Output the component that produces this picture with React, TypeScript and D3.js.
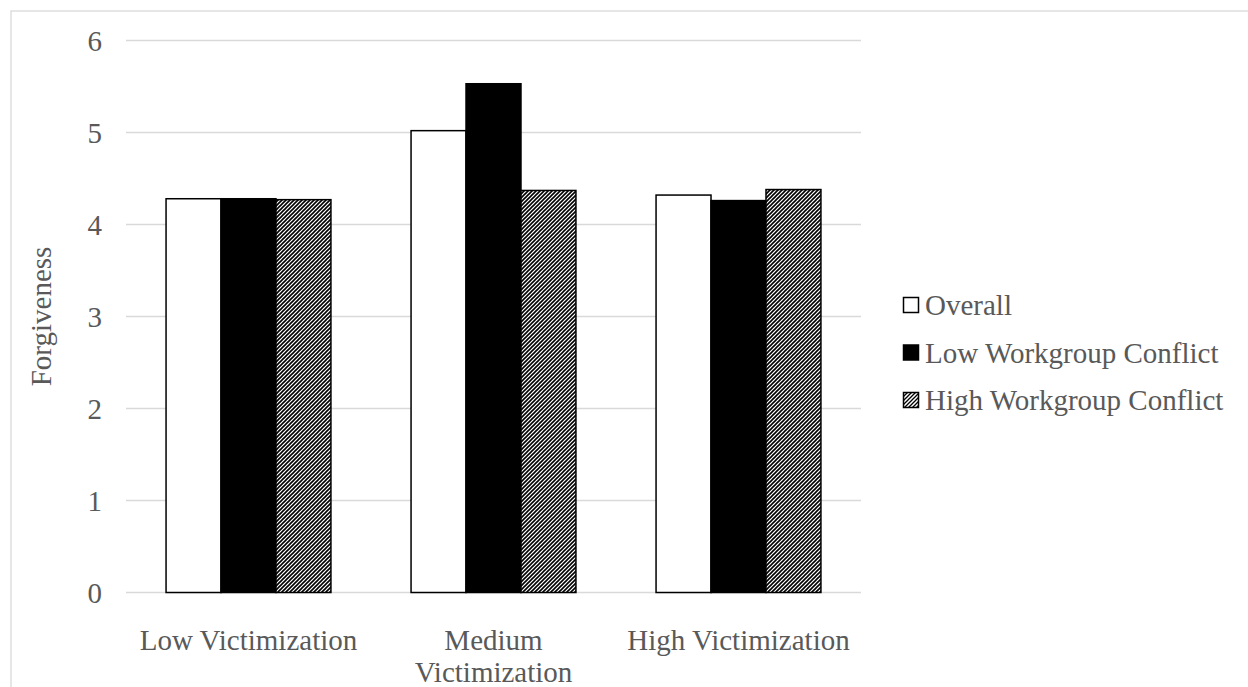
import React from "react";
import * as d3 from "d3";

const categories = ["Low Victimization", "Medium Victimization", "High Victimization"];
const categoryLines = [["Low Victimization"], ["Medium", "Victimization"], ["High Victimization"]];
const seriesNames = ["Overall", "Low Workgroup Conflict", "High Workgroup Conflict"];
const overall = [4.28, 5.02, 4.32];
const lowConflict = [4.28, 5.53, 4.26];
const highConflict = [4.27, 4.37, 4.38];
const yTicks = [0, 1, 2, 3, 4, 5, 6];

const W = 1248;
const H = 687;
const plotLeft = 126;
const plotRight = 861;
const plotTop = 40.5;
const plotBottom = 592.5;
const FONT = "'Liberation Serif', 'Times New Roman', serif";
const TEXT = "#595959";

export default function App() {
  const series = [overall, lowConflict, highConflict];
  const x0 = d3.scaleBand<string>().domain(categories).range([plotLeft, plotRight]).padding(0);
  const bw = x0.bandwidth();
  const groupW = bw * 0.673;
  const x1 = d3
    .scaleBand<number>()
    .domain([0, 1, 2])
    .range([(bw - groupW) / 2, (bw + groupW) / 2])
    .padding(0);
  const y = d3.scaleLinear().domain([0, 6]).range([plotBottom, plotTop]);

  const fills = ["#ffffff", "#000000", "url(#hatch)"];

  return (
    <svg
      width={W}
      height={H}
      style={{ position: "absolute", left: 0, top: 0, background: "#fff" }}
      fontFamily={FONT}
    >
      <defs>
        <pattern id="hatch" patternUnits="userSpaceOnUse" width="4" height="4">
          <rect width="4" height="4" fill="#fff" />
          <path d="M-1,1 L1,-1 M0,4 L4,0 M3,5 L5,3" stroke="#000" strokeWidth="1.6" />
        </pattern>
        <pattern id="hatchSmall" patternUnits="userSpaceOnUse" width="4" height="4">
          <rect width="4" height="4" fill="#fff" />
          <path d="M-1,1 L1,-1 M0,4 L4,0 M3,5 L5,3" stroke="#000" strokeWidth="1.3" />
        </pattern>
      </defs>
      <rect x={0} y={0} width={W} height={H} fill="#fff" />
      <rect x={11} y={11} width={W + 100} height={H + 100} fill="none" stroke="#d9d9d9" strokeWidth={1.3} />

      {yTicks.map((t) => (
        <g key={t}>
          <line x1={plotLeft} x2={plotRight} y1={y(t)} y2={y(t)} stroke="#d9d9d9" strokeWidth={1.3} />
          <text x={102} y={y(t)} dy="0.35em" textAnchor="end" fontSize={29} fill={TEXT}>
            {t}
          </text>
        </g>
      ))}

      {categories.map((c, ci) => (
        <g key={c} transform={`translate(${x0(c)},0)`}>
          {series.map((s, si) => (
            <rect
              key={si}
              x={x1(si)}
              y={y(s[ci])}
              width={x1.bandwidth()}
              height={y(0) - y(s[ci])}
              fill={fills[si]}
              stroke="#000"
              strokeWidth={1.5}
            />
          ))}
        </g>
      ))}

      {categories.map((c, ci) => (
        <text key={c} x={(x0(c) as number) + bw / 2} textAnchor="middle" fontSize={29} fill={TEXT}>
          {categoryLines[ci].map((ln, li) => (
            <tspan key={li} x={(x0(c) as number) + bw / 2} y={650 + li * 32}>
              {ln}
            </tspan>
          ))}
        </text>
      ))}

      <text
        transform={`translate(${41},${(plotTop + plotBottom) / 2}) rotate(-90)`}
        textAnchor="middle"
        fontSize={29}
        fill={TEXT}
        dy="0.35em"
      >
        Forgiveness
      </text>

      {seriesNames.map((n, i) => {
        const cy = 305 + i * 47.5;
        return (
          <g key={n}>
            <rect
              x={903.5}
              y={cy - 7.5}
              width={15}
              height={15}
              fill={i === 2 ? "url(#hatchSmall)" : fills[i]}
              stroke="#000"
              strokeWidth={1.5}
            />
            <text x={925} y={cy} dy="0.35em" fontSize={29} fill={TEXT}>
              {n}
            </text>
          </g>
        );
      })}
    </svg>
  );
}
